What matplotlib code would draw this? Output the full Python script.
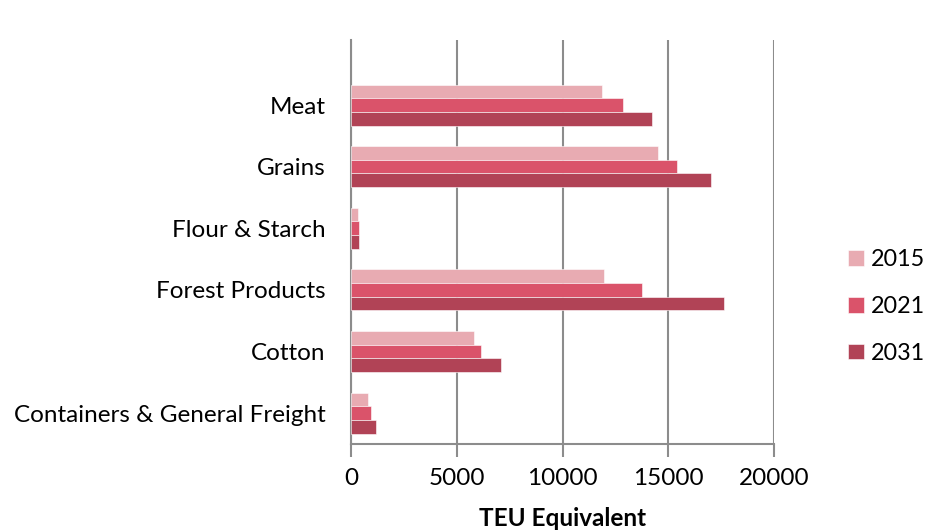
import matplotlib
matplotlib.use("Agg")
from matplotlib import pyplot as plt
import numpy as np

plt.rcParams['font.family'] = ['Lato', 'DejaVu Sans']

categories = ["Containers & General Freight", "Cotton", "Forest Products",
              "Flour & Starch", "Grains", "Meat"]
years = ["2015", "2021", "2031"]
teu_2015 = [790, 5830, 11980, 320, 14530, 11870]
teu_2021 = [930, 6160, 13760, 360, 15420, 12850]
teu_2031 = [1165, 7070, 17640, 400, 17000, 14250]
colors = ["#E8ABB2", "#DA536A", "#B14356"]
fs = 17.5

fig = plt.figure(figsize=(9.27, 5.3), dpi=100)
ax = fig.add_axes([0.3786, 0.1623, 0.835 - 0.3786, 0.9245 - 0.1623])

y = np.arange(len(categories))
h = 0.222
series = [teu_2015, teu_2021, teu_2031]
for i, (vals, col, yr) in enumerate(zip(series, colors, years)):
    ax.barh(y + h - i * h, vals, height=h, color=col, label=yr,
            edgecolor="white", linewidth=0.4, zorder=3)

ax.set_xlim(0, 20000)
ax.set_ylim(-0.5, 6.055)
ax.set_xticks([0, 5000, 10000, 15000, 20000])
ax.set_yticks(y)
ax.set_yticklabels(categories)
ax.grid(axis="x", color="#8c8c8c", linewidth=1.5, zorder=0)

for side in ["top", "right"]:
    ax.spines[side].set_visible(False)
ax.spines["left"].set_color("#8c8c8c")
ax.spines["left"].set_linewidth(1.5)
ax.spines["bottom"].set_color("#8c8c8c")
ax.spines["bottom"].set_linewidth(1.5)
ax.tick_params(axis="y", length=0, pad=18.5, labelsize=fs)
ax.tick_params(axis="x", length=9, width=1.5, color="#8c8c8c",
               pad=8.5, labelsize=fs)
ax.set_xlabel("TEU Equivalent", fontsize=fs, fontweight="bold", labelpad=13)

ax.legend(loc="center left", bbox_to_anchor=(1.126, 0.34), frameon=False,
          fontsize=16.8, handlelength=0.65, handleheight=0.65,
          labelspacing=1.1, handletextpad=0.3)

fig.savefig("out.png", dpi=100)
